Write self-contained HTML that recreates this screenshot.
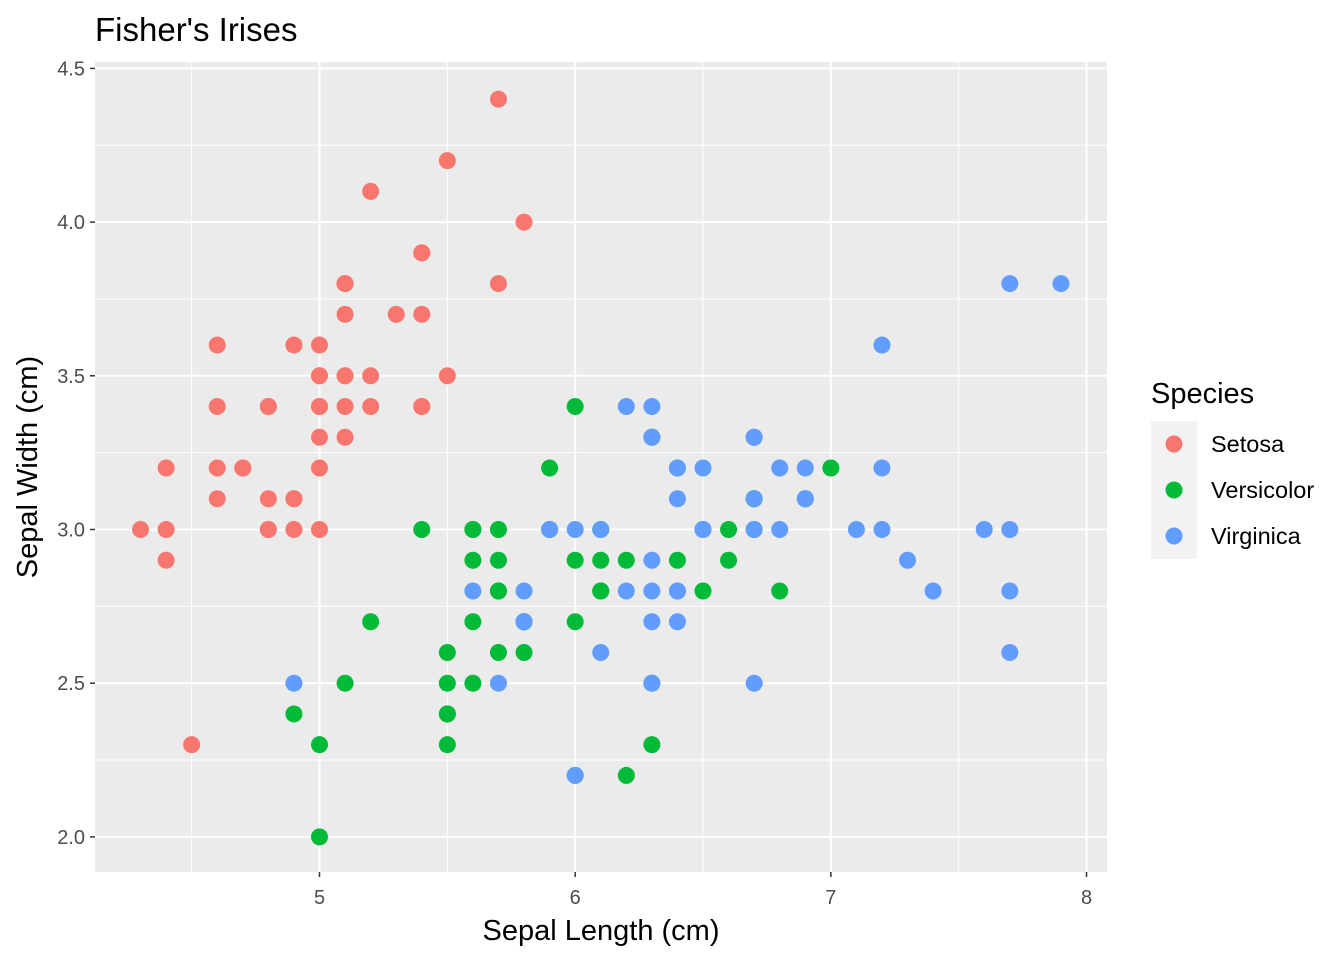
<!DOCTYPE html>
<html><head><meta charset="utf-8"><style>
html,body{margin:0;padding:0;background:#fff}
svg{display:block;font-family:"Liberation Sans",Arial,sans-serif}
</style></head><body>
<svg id="c" width="1344" height="960" viewBox="0 0 1344 960"></svg>
<script>
const species = ["Setosa","Versicolor","Virginica"];
const colors = ["#F8766D","#00BA38","#619CFF"];
const setosaLen = [5.1,4.9,4.7,4.6,5.0,5.4,4.6,5.0,4.4,4.9,5.4,4.8,4.8,4.3,5.8,5.7,5.4,5.1,5.7,5.1,5.4,5.1,4.6,5.1,4.8,5.0,5.0,5.2,5.2,4.7,4.8,5.4,5.2,5.5,4.9,5.0,5.5,4.9,4.4,5.1,5.0,4.5,4.4,5.0,5.1,4.8,5.1,4.6,5.3,5.0];
const setosaWid = [3.5,3.0,3.2,3.1,3.6,3.9,3.4,3.4,2.9,3.1,3.7,3.4,3.0,3.0,4.0,4.4,3.9,3.5,3.8,3.8,3.4,3.7,3.6,3.3,3.4,3.0,3.4,3.5,3.4,3.2,3.1,3.4,4.1,4.2,3.1,3.2,3.5,3.6,3.0,3.4,3.5,2.3,3.2,3.5,3.8,3.0,3.8,3.2,3.7,3.3];
const versiLen = [7.0,6.4,6.9,5.5,6.5,5.7,6.3,4.9,6.6,5.2,5.0,5.9,6.0,6.1,5.6,6.7,5.6,5.8,6.2,5.6,5.9,6.1,6.3,6.1,6.4,6.6,6.8,6.7,6.0,5.7,5.5,5.5,5.8,6.0,5.4,6.0,6.7,6.3,5.6,5.5,5.5,6.1,5.8,5.0,5.6,5.7,5.7,6.2,5.1,5.7];
const versiWid = [3.2,3.2,3.1,2.3,2.8,2.8,3.3,2.4,2.9,2.7,2.0,3.0,2.2,2.9,2.9,3.1,3.0,2.7,2.2,2.5,3.2,2.8,2.5,2.8,2.9,3.0,2.8,3.0,2.9,2.6,2.4,2.4,2.7,2.7,3.0,3.4,3.1,2.3,3.0,2.5,2.6,3.0,2.6,2.3,2.7,3.0,2.9,2.9,2.5,2.8];
const virgLen = [6.3,5.8,7.1,6.3,6.5,7.6,4.9,7.3,6.7,7.2,6.5,6.4,6.8,5.7,5.8,6.4,6.5,7.7,7.7,6.0,6.9,5.6,7.7,6.3,6.7,7.2,6.2,6.1,6.4,7.2,7.4,7.9,6.4,6.3,6.1,7.7,6.3,6.4,6.0,6.9,6.7,6.9,5.8,6.8,6.7,6.7,6.3,6.5,6.2,5.9];
const virgWid = [3.3,2.7,3.0,2.9,3.0,3.0,2.5,2.9,2.5,3.6,3.2,2.7,3.0,2.5,2.8,3.2,3.0,3.8,2.6,2.2,3.2,2.8,2.8,2.7,3.3,3.2,2.8,3.0,2.8,3.0,2.8,3.8,2.8,2.8,2.6,3.0,3.4,3.1,3.0,3.1,3.1,3.1,2.7,3.2,3.3,3.0,2.5,3.0,3.4,3.0];
const xTicks = [5,6,7,8];
const yTicks = [2.0,2.5,3.0,3.5,4.0,4.5];
const xTickLabels = ["5","6","7","8"];
const yTickLabels = ["2.0","2.5","3.0","3.5","4.0","4.5"];

const P = {l:95, r:1107, t:62, b:872};
const x = v => 319.5 + (v-5)*255.67;
const y = v => 529.5 - (v-3)*307.4;
const svg = document.getElementById('c');
const NS = "http://www.w3.org/2000/svg";
function mk(tag, attrs, parent){ const e=document.createElementNS(NS,tag); for(const k in attrs) e.setAttribute(k,attrs[k]); (parent||svg).appendChild(e); return e; }

const panel = mk('rect',{x:P.l,y:P.t,width:P.r-P.l,height:P.b-P.t,fill:'#EBEBEB'});


for(let i=0;i<xTicks.length;i++){ const v=xTicks[i]-0.5; const l=mk('line',{x1:x(v),x2:x(v),y1:P.t,y2:P.b,stroke:'#fff','stroke-width':1});
   }
for(let i=0;i<yTicks.length-1;i++){ const v=yTicks[i]+0.25; const l=mk('line',{x1:P.l,x2:P.r,y1:y(v),y2:y(v),stroke:'#fff','stroke-width':1});
   }
xTicks.forEach((v,i)=>{
 const g=mk('line',{x1:x(v),x2:x(v),y1:P.t,y2:P.b,stroke:'#fff','stroke-width':2});
  
 const t=mk('line',{x1:x(v),x2:x(v),y1:P.b,y2:P.b+5,stroke:'#333','stroke-width':1.5});
  
 const tx=mk('text',{x:x(v),y:P.b+32,'text-anchor':'middle','font-size':20,fill:'#4D4D4D'}); tx.textContent=xTickLabels[i];
  
});
yTicks.forEach((v,i)=>{
 const g=mk('line',{x1:P.l,x2:P.r,y1:y(v),y2:y(v),stroke:'#fff','stroke-width':2});
  
 const t=mk('line',{x1:P.l-5,x2:P.l,y1:y(v),y2:y(v),stroke:'#333','stroke-width':1.5});
  
 const tx=mk('text',{x:P.l-10,y:y(v)+7,'text-anchor':'end','font-size':20,fill:'#4D4D4D'}); tx.textContent=yTickLabels[i];
  
});
const series=[[setosaLen,setosaWid],[versiLen,versiWid],[virgLen,virgWid]];
series.forEach((s,si)=>{
 s[0].forEach((v,i)=>{
  const c=mk('circle',{cx:x(v),cy:y(s[1][i]),r:8.5,fill:colors[si]});
  
  
 });
});
let t=mk('text',{x:95,y:41,'font-size':33,fill:'#000'}); t.textContent="Fisher's Irises";
 
t=mk('text',{x:601,y:940,'text-anchor':'middle','font-size':29,fill:'#000'}); t.textContent="Sepal Length (cm)";
 
t=mk('text',{x:37,y:467,'text-anchor':'middle','font-size':29,fill:'#000',transform:'rotate(-90 37 467)'}); t.textContent="Sepal Width (cm)";
 
t=mk('text',{x:1151,y:403,'font-size':29,fill:'#000'}); t.textContent="Species";
 
species.forEach((sp,i)=>{
 const cy=444+i*46;
 const k=mk('rect',{x:1151,y:cy-23,width:46,height:46,fill:'#F2F2F2'});
  
 const c=mk('circle',{cx:1174,cy:cy,r:8.5,fill:colors[i]});
  
 const l=mk('text',{x:1211,y:cy+8,'font-size':23.5,fill:'#000'}); l.textContent=sp;
  
});
</script>
</body></html>
